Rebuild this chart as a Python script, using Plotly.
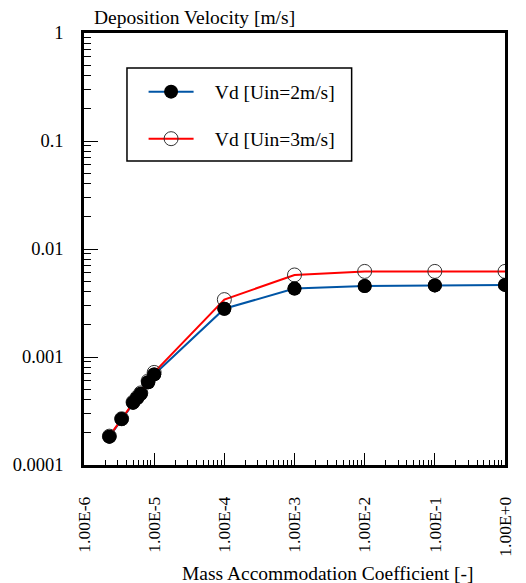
import plotly.graph_objects as go

# ---- data ----
mac = [2.3e-6, 3.44e-6, 5.0e-6, 5.7e-6, 6.45e-6, 8.2e-6, 1.0e-5, 1.0e-4, 1.0e-3, 1.0e-2, 1.0e-1, 1.0]
vd_2 = [1.83e-4, 2.66e-4, 3.78e-4, 4.16e-4, 4.57e-4, 5.84e-4, 6.9e-4, 2.8e-3, 4.3e-3, 4.55e-3, 4.6e-3, 4.65e-3]
vd_3 = [1.85e-4, 2.68e-4, 3.82e-4, 4.22e-4, 4.65e-4, 6.0e-4, 7.2e-4, 3.4e-3, 5.75e-3, 6.2e-3, 6.2e-3, 6.2e-3]
name_2 = "Vd [Uin=2m/s]"
name_3 = "Vd [Uin=3m/s]"
x_tickvals = [1e-6, 1e-5, 1e-4, 1e-3, 1e-2, 1e-1, 1]
x_ticktext = ["1.00E-6", "1.00E-5", "1.00E-4", "1.00E-3", "1.00E-2", "1.00E-1", "1.00E+0"]
y_tickvals = [1e-4, 1e-3, 1e-2, 1e-1, 1]
y_ticktext = ["0.0001", "0.001", "0.01", "0.1", "1"]
x_title = "Mass Accommodation Coefficient [-]"
y_title = "Deposition Velocity [m/s]"

FONT = "'Liberation Serif', 'Times New Roman', Times, serif"
W, H = 526, 583
ML, MR, MT, MB = 84, 11, 33, 118
PW, PH = W - ML - MR, H - MT - MB


def px_x(p):
    return (p - ML) / PW


def px_y(p):
    return (H - MB - p) / PH


BLUE = "#0055A5"
RED = "#FF0000"
GAP = "\u2002\u2004"  # visual gap between legend symbol and label

fig = go.Figure()
# blue line + filled markers (for legend)
fig.add_trace(go.Scatter(
    x=mac, y=vd_2, name=GAP + name_2, mode="lines+markers",
    line=dict(color=BLUE, width=2),
    marker=dict(color="black", size=14, symbol="circle"),
    legend="legend",
))
# red line + open markers
fig.add_trace(go.Scatter(
    x=mac, y=vd_3, name=GAP + name_3, mode="lines+markers",
    line=dict(color=RED, width=2),
    marker=dict(color="#333333", size=14, symbol="circle-open", line=dict(width=1)),
    legend="legend2",
))
# black markers on top
fig.add_trace(go.Scatter(
    x=mac, y=vd_2, mode="markers", showlegend=False,
    marker=dict(color="black", size=14, symbol="circle"),
))

axis_common = dict(
    type="log", showgrid=False, zeroline=False,
    showline=True, linecolor="black", linewidth=2.5, mirror=True,
    ticks="inside", tickcolor="black", tickwidth=1.2,
)

fig.update_xaxes(
    **axis_common, range=[-6, 0], tickmode="array",
    tickvals=x_tickvals, ticktext=x_ticktext, tickangle=-90, ticklen=12,
    ticklabelstandoff=22,
    tickfont=dict(family=FONT, size=17.5, color="black"),
    minor=dict(ticks="inside", ticklen=5, tickcolor="black", tickwidth=1.2, dtick="D1", showgrid=False),
)
fig.update_yaxes(
    **axis_common, range=[-4, 0], tickmode="array",
    tickvals=y_tickvals, ticktext=y_ticktext, ticklen=14,
    ticklabelstandoff=14,
    tickfont=dict(family=FONT, size=18.5, color="black"),
    minor=dict(ticks="inside", ticklen=7, tickcolor="black", tickwidth=1.2, dtick="D1", showgrid=False),
)

legend_common = dict(
    font=dict(family=FONT, size=19.5, color="black"),
    bgcolor="rgba(0,0,0,0)", borderwidth=0, itemwidth=45,
    xanchor="left", yanchor="middle", xref="paper", yref="paper",
)

fig.update_layout(
    width=W, height=H,
    margin=dict(l=ML, r=MR, t=MT, b=MB, pad=0),
    paper_bgcolor="white", plot_bgcolor="white",
    font=dict(family=FONT, color="black"),
    legend=dict(**legend_common, x=px_x(145), y=px_y(92)),
    legend2=dict(**legend_common, x=px_x(145), y=px_y(139)),
    shapes=[dict(type="rect", xref="paper", yref="paper",
                 x0=px_x(128), x1=px_x(358), y0=px_y(161), y1=px_y(68),
                 line=dict(color="black", width=1.5), fillcolor="rgba(0,0,0,0)", layer="above")],
    annotations=[
        dict(text=y_title, xref="paper", yref="paper", x=px_x(92), y=px_y(18),
             xanchor="left", yanchor="middle", showarrow=False,
             font=dict(family=FONT, size=19.5, color="black")),
        dict(text=x_title, xref="paper", yref="paper", x=px_x(334), y=px_y(573),
             xanchor="center", yanchor="middle", showarrow=False,
             font=dict(family=FONT, size=19.5, color="black")),
    ],
)

fig.write_html(
    "out.html",
    config={"displayModeBar": False},
    post_script="document.body.style.margin='0';document.body.style.overflow='hidden';",
)
